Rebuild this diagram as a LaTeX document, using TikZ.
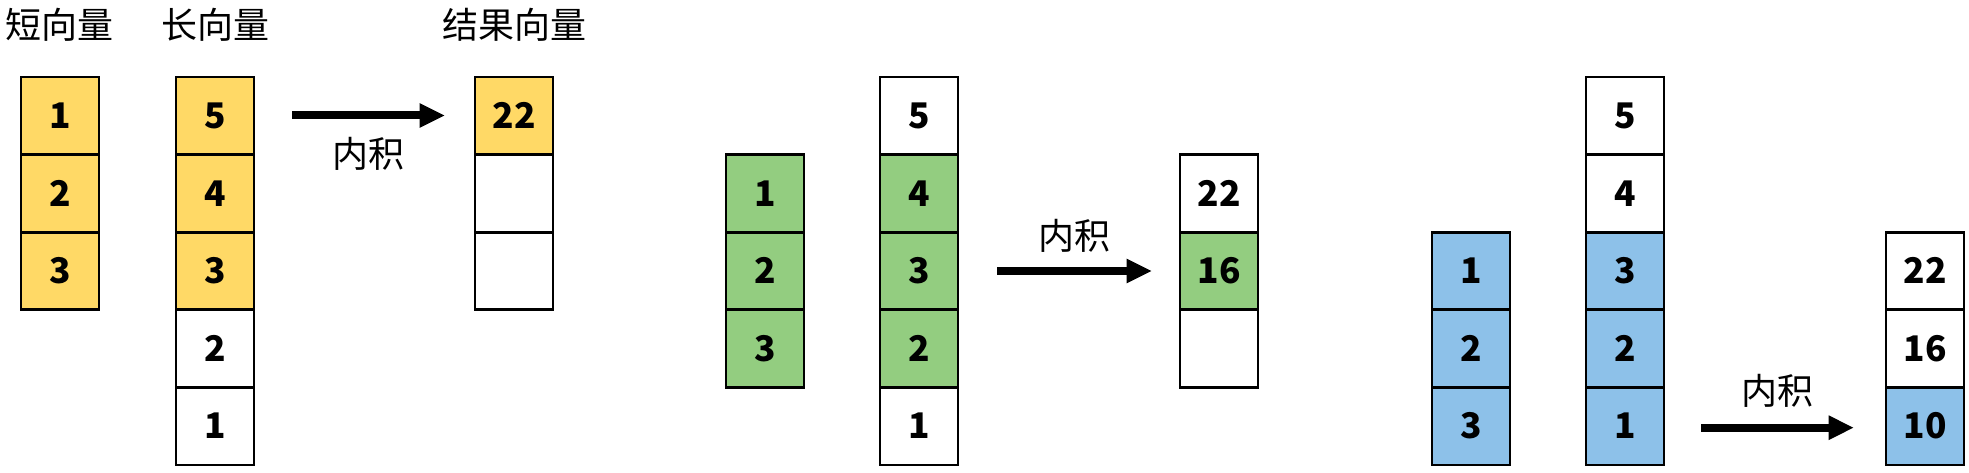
\documentclass[tikz,border=0pt]{standalone}
\usepackage{fontspec}
\setmainfont{Noto Sans CJK SC}
\usepackage{tikz}
\usetikzlibrary{arrows.meta,positioning}

\definecolor{cyellow}{HTML}{FFD966}
\definecolor{cgreen}{HTML}{93CD80}
\definecolor{cblue}{HTML}{8DC1E9}

\begin{document}
\begin{tikzpicture}[y=0.75pt, x=0.75pt, inner sep=0pt, outer sep=0pt,
cell/.style={draw, line width=2.2pt, minimum width=58.5pt, minimum height=58.2pt,
  font=\fontsize{26.5}{30}\selectfont\bfseries, text height=19pt, text depth=0pt},
title/.style={font=\fontsize{27}{32}\selectfont},
trans/.style={line width=6pt, -{Triangle[length=19pt, width=17pt]}}]
\useasboundingbox (0,0) rectangle (1969,473);
% first step
\node[title](T1) at (60,448) {短向量};
\node[title](T2) at (215,448) {长向量};
\node[title](T3) at (514,448) {结果向量};
\node[cell, fill=cyellow](S11) at (60,357.2) {1};
\node[cell, fill=cyellow](S12)[below = 0 of S11] {2};
\node[cell, fill=cyellow](S13)[below = 0 of S12] {3};
\node[cell, fill=cyellow](L11) at (215,357.2) {5};
\node[cell, fill=cyellow](L12)[below = 0 of L11] {4};
\node[cell, fill=cyellow](L13)[below = 0 of L12] {3};
\node[cell](L14)[below = 0 of L13] {2};
\node[cell](L15)[below = 0 of L14] {1};
\node[cell, fill=cyellow](R11) at (514,357.2) {22};
\node[cell](R12)[below = 0 of R11] {};
\node[cell](R13)[below = 0 of R12] {};
\coordinate (A1) at (292,357.5);
\coordinate (B1) at (445,357.5);
\draw[trans] (A1) -- (B1) node[title, midway, below = 16pt] (N1) {内积};
% second step
\node[cell, fill=cgreen](S21) at (765,279.6) {1};
\node[cell, fill=cgreen](S22)[below = 0 of S21] {2};
\node[cell, fill=cgreen](S23)[below = 0 of S22] {3};
\node[cell](L21) at (919,357.2) {5};
\node[cell, fill=cgreen](L22)[below = 0 of L21] {4};
\node[cell, fill=cgreen](L23)[below = 0 of L22] {3};
\node[cell, fill=cgreen](L24)[below = 0 of L23] {2};
\node[cell](L25)[below = 0 of L24] {1};
\node[cell](R21) at (1219,279.6) {22};
\node[cell, fill=cgreen](R22)[below = 0 of R21] {16};
\node[cell](R23)[below = 0 of R22] {};
\coordinate (A2) at (997,202);
\coordinate (B2) at (1152,202);
\draw[trans] (A2) -- (B2) node[title, midway, above = 14pt] (N2) {内积};
% third step
\node[cell, fill=cblue](S31) at (1471,202) {1};
\node[cell, fill=cblue](S32)[below = 0 of S31] {2};
\node[cell, fill=cblue](S33)[below = 0 of S32] {3};
\node[cell](L31) at (1625,357.2) {5};
\node[cell](L32)[below = 0 of L31] {4};
\node[cell, fill=cblue](L33)[below = 0 of L32] {3};
\node[cell, fill=cblue](L34)[below = 0 of L33] {2};
\node[cell, fill=cblue](L35)[below = 0 of L34] {1};
\node[cell](R31) at (1925,202) {22};
\node[cell](R32)[below = 0 of R31] {16};
\node[cell, fill=cblue](R33)[below = 0 of R32] {10};
\coordinate (A3) at (1701,45.3);
\coordinate (B3) at (1854,45.3);
\draw[trans] (A3) -- (B3) node[title, midway, above = 15pt] (N3) {内积};
\end{tikzpicture}
\end{document}
